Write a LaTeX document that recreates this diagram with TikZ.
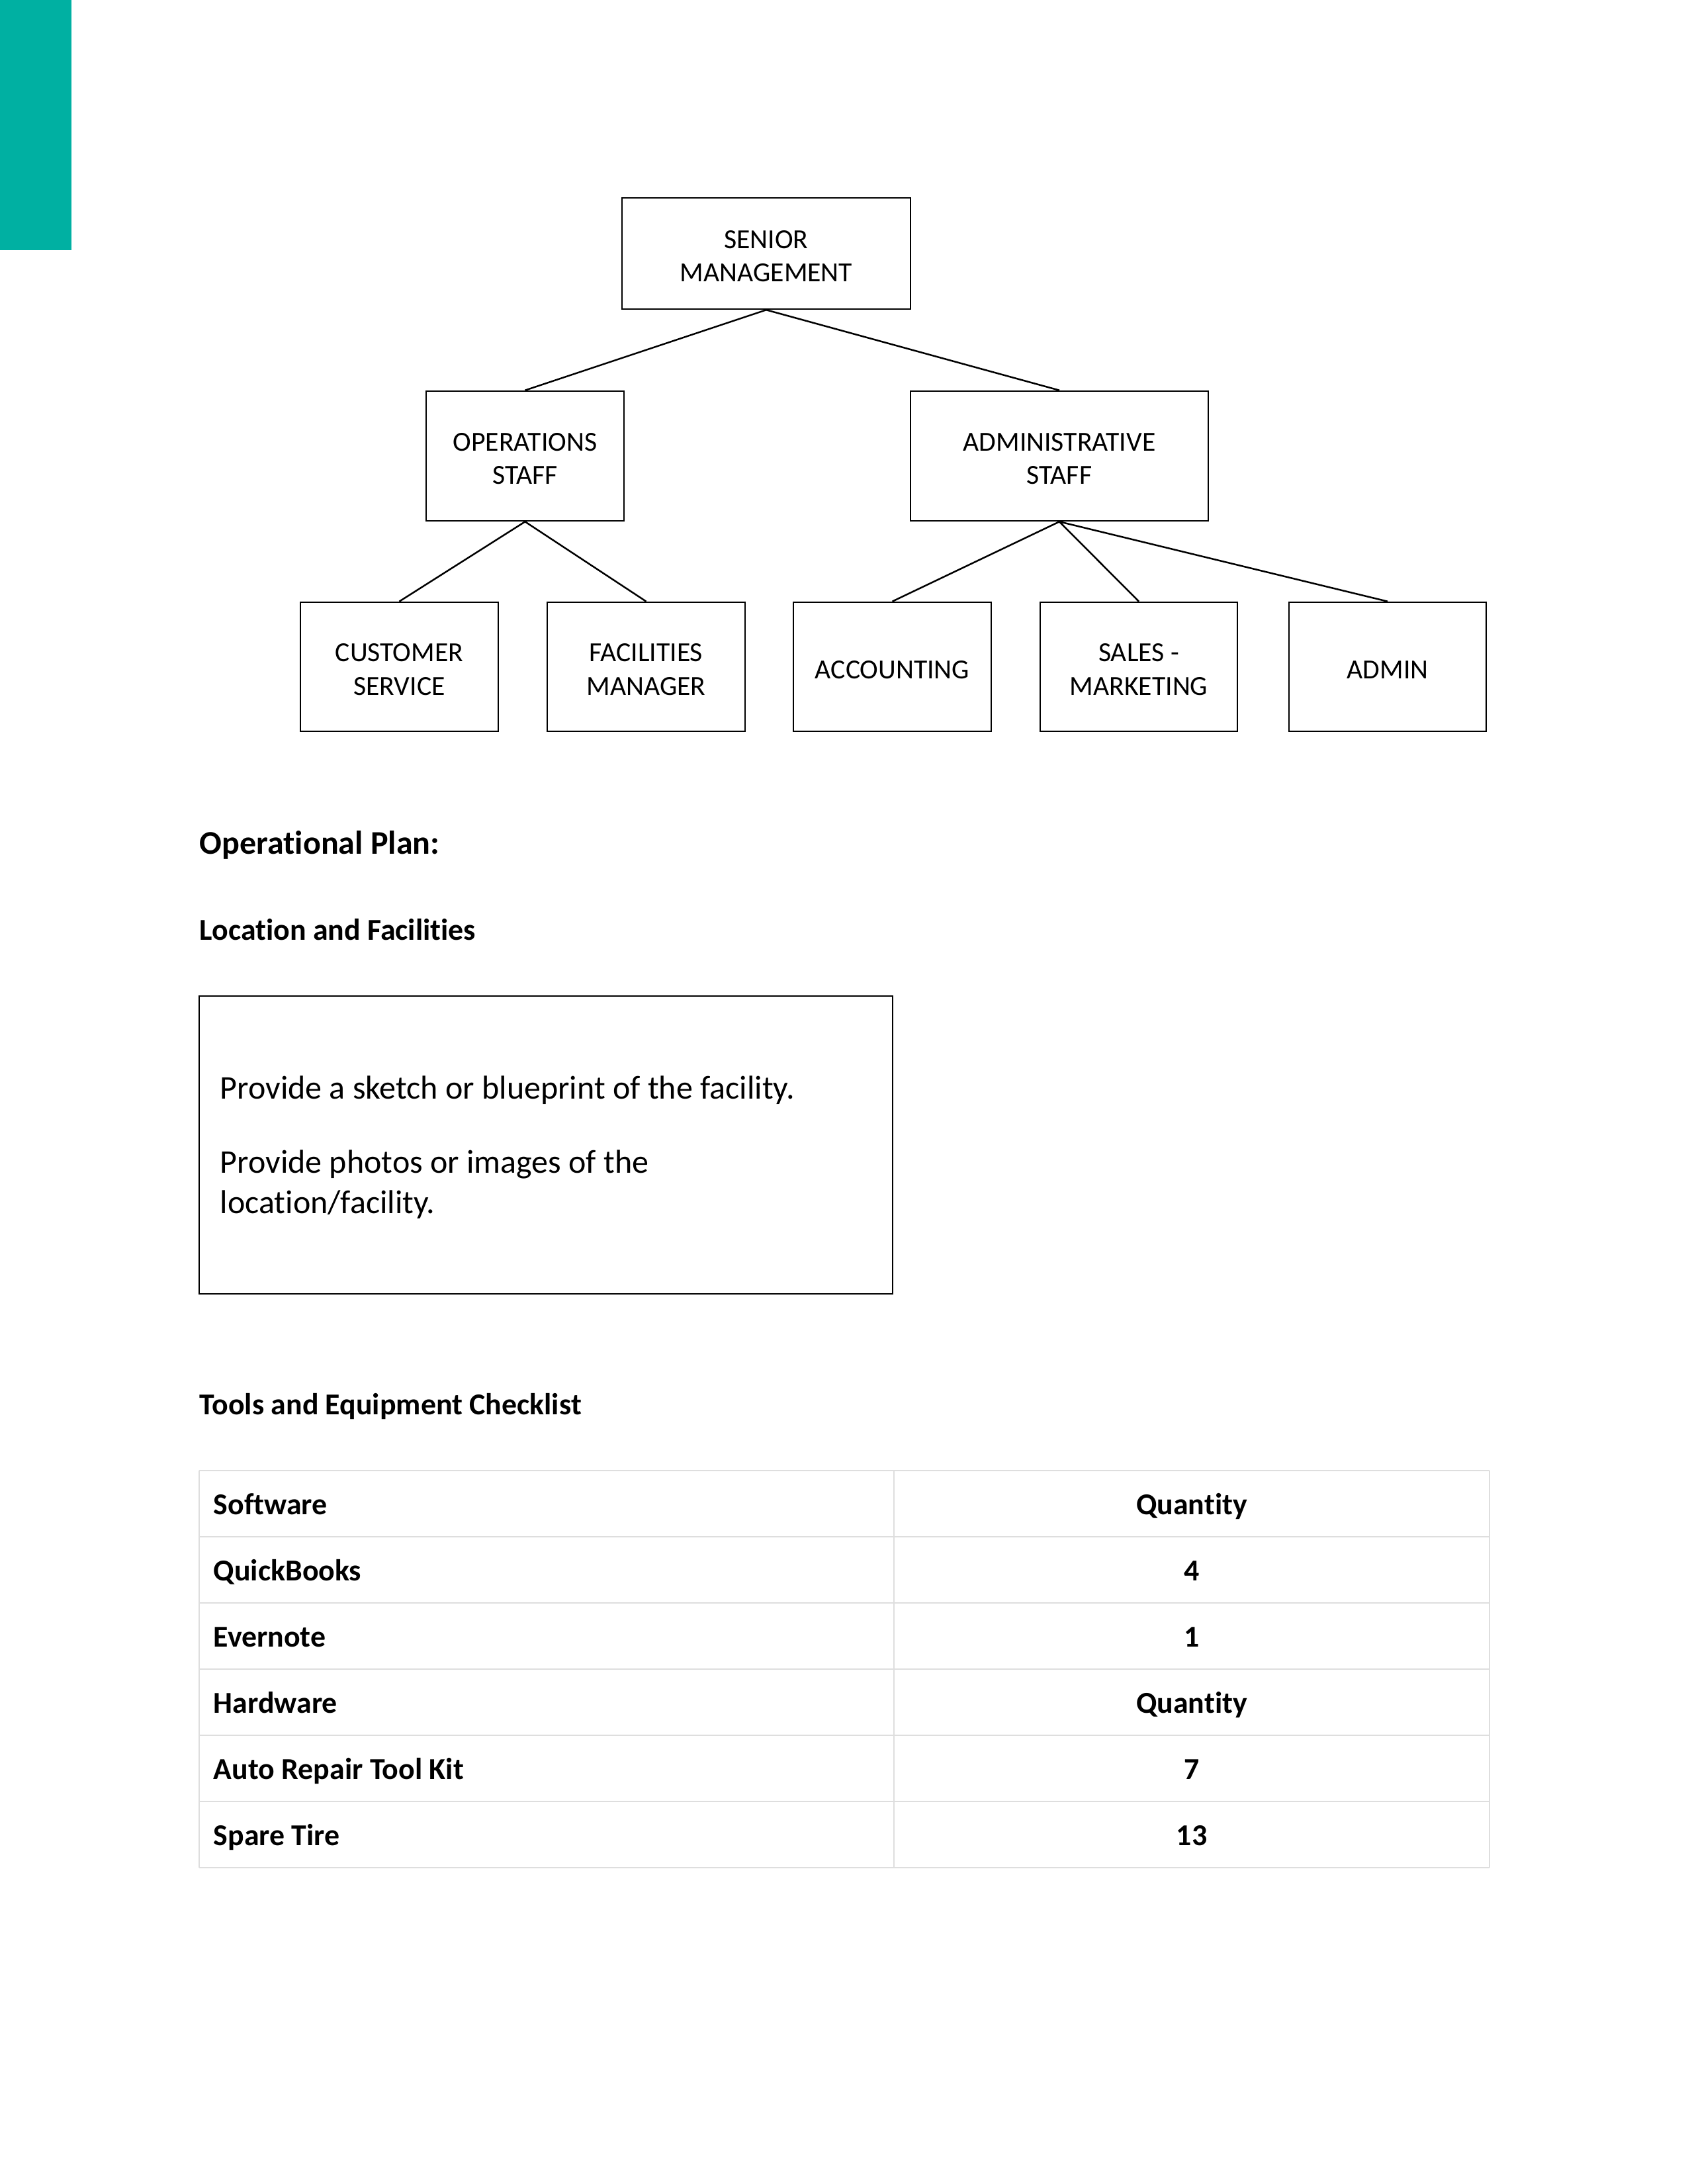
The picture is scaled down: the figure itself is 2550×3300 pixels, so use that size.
\documentclass[tikz,border=0pt]{standalone}
\usepackage{fontspec}
\setmainfont{Carlito}[RawFeature=-liga,RawFeature=-calt,RawFeature=-clig]
\definecolor{teal1}{RGB}{0,176,162}
\definecolor{gridgray}{RGB}{222,222,222}
\begin{document}
\begin{tikzpicture}[x=0.24pt,y=-0.24pt,
  orgbox/.style={draw=black,line width=0.6pt,rectangle,inner sep=0pt},
  orgtext/.style={inner sep=0pt,align=center,yshift=-1pt,
     font=\fontsize{10}{12.2}\selectfont},
  link/.style={draw=black,line width=0.6pt},
  heading/.style={anchor=base west,inner sep=0pt,font=\bfseries\fontsize{11}{13.4}\selectfont},
  bodytext/.style={anchor=base west,inner sep=0pt,font=\fontsize{12}{14.6}\selectfont},
  cellL/.style={anchor=base west,inner sep=0pt,font=\bfseries\fontsize{11}{13.4}\selectfont},
  cellR/.style={anchor=base,inner sep=0pt,font=\bfseries\fontsize{11}{13.4}\selectfont},
  gridline/.style={draw=gridgray,line width=0.7pt}]
\useasboundingbox (0,0) rectangle (2550,3300);
\fill[teal1] (0,0) rectangle (108,378);

% org chart
\node[orgbox,minimum width={436*0.24pt},minimum height={168*0.24pt}] (senior) at (1158,383) {};
\node[orgbox,minimum width={299*0.24pt},minimum height={196*0.24pt}] (ops) at (793.5,689) {};
\node[orgbox,minimum width={450*0.24pt},minimum height={196*0.24pt}] (adm) at (1601,689) {};
\node[orgbox,minimum width={299*0.24pt},minimum height={195*0.24pt}] (cust) at (603.5,1007.5) {};
\node[orgbox,minimum width={299*0.24pt},minimum height={195*0.24pt}] (fac) at (976.5,1007.5) {};
\node[orgbox,minimum width={299*0.24pt},minimum height={195*0.24pt}] (acc) at (1348.5,1007.5) {};
\node[orgbox,minimum width={298*0.24pt},minimum height={195*0.24pt}] (sales) at (1721,1007.5) {};
\node[orgbox,minimum width={298*0.24pt},minimum height={195*0.24pt}] (admin) at (2097,1007.5) {};
\node[orgtext] (seniorT) at (senior.center) {SENIOR\\MANAGEMENT};
\node[orgtext] (opsT) at (ops.center) {OPERATIONS\\STAFF};
\node[orgtext] (admT) at (adm.center) {ADMINISTRATIVE\\STAFF};
\node[orgtext] (custT) at (cust.center) {CUSTOMER\\SERVICE};
\node[orgtext] (facT) at (fac.center) {FACILITIES\\MANAGER};
\node[orgtext] (accT) at (acc.center) {ACCOUNTING};
\node[orgtext] (salesT) at (sales.center) {SALES -\\MARKETING};
\node[orgtext] (adminT) at (admin.center) {ADMIN};
\draw[link] (senior.south) -- (ops.north);
\draw[link] (senior.south) -- (adm.north);
\draw[link] (ops.south) -- (cust.north);
\draw[link] (ops.south) -- (fac.north);
\draw[link] (adm.south) -- (acc.north);
\draw[link] (adm.south) -- (sales.north);
\draw[link] (adm.south) -- (admin.north);

% headings
\node[anchor=base west,inner sep=0pt,font=\bfseries\fontsize{12}{14.6}\selectfont] (opplan) at (301,1290) {Operational Plan:};
\node[heading] (loc) at (301,1420) {Location and Facilities};

% location box
\node[draw=black,line width=0.6pt,rectangle,inner sep=0pt,minimum width={1048*0.24pt},minimum height={450*0.24pt}] (locbox) at (825,1730) {};
\node[bodytext] (t1) at (332,1660) {Provide a sketch or blueprint of the facility.};
\node[bodytext] (t2) at (332,1772) {Provide photos or images of the};
\node[bodytext] (t3) at (332,1833) {location/facility.};

\node[heading] (tools) at (301,2137) {Tools and Equipment Checklist};

% table
\foreach \yy in {2222,2322,2422,2522,2622,2722,2822} {
  \draw[gridline] (301,\yy) -- (2251,\yy);
}
\draw[gridline] (301,2222) -- (301,2822);
\draw[gridline] (1351,2222) -- (1351,2822);
\draw[gridline] (2251,2222) -- (2251,2822);
\node[cellL] (r1l) at (322,2288) {Software};
\node[cellR] (r1r) at (1801,2288) {Quantity};
\node[cellL] (r2l) at (322,2388) {QuickBooks};
\node[cellR] (r2r) at (1801,2388) {4};
\node[cellL] (r3l) at (322,2488) {Evernote};
\node[cellR] (r3r) at (1801,2488) {1};
\node[cellL] (r4l) at (322,2588) {Hardware};
\node[cellR] (r4r) at (1801,2588) {Quantity};
\node[cellL] (r5l) at (322,2688) {Auto Repair Tool Kit};
\node[cellR] (r5r) at (1801,2688) {7};
\node[cellL] (r6l) at (322,2788) {Spare Tire};
\node[cellR] (r6r) at (1801,2788) {13};
\end{tikzpicture}
\end{document}
